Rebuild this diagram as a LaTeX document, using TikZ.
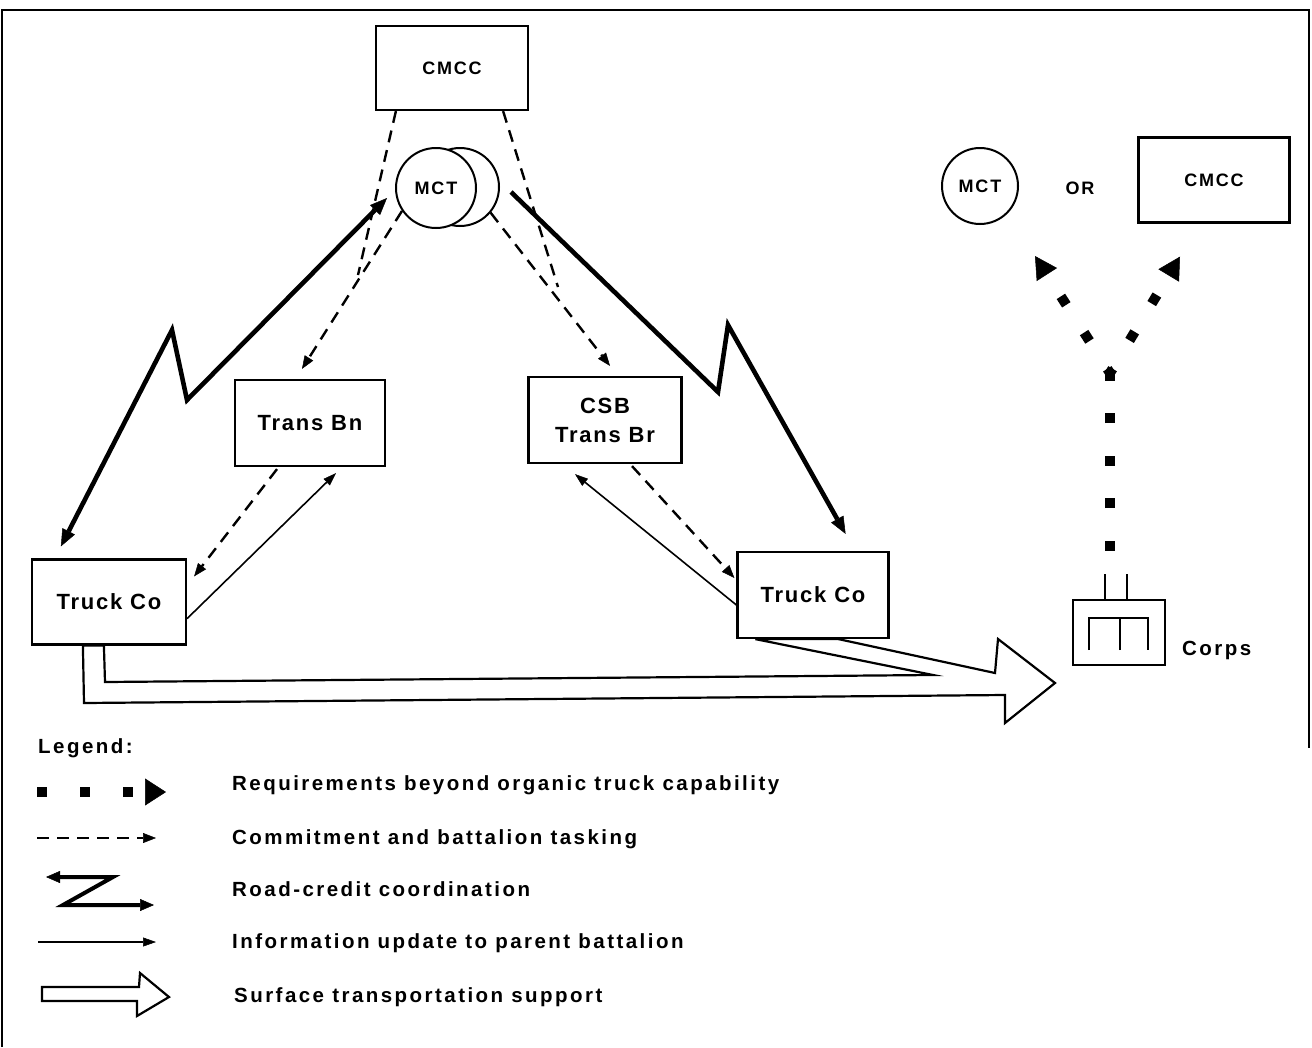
\documentclass[tikz,border=0pt]{standalone}
\usepackage{fontspec}
\setmainfont{Liberation Sans}
\newfontfamily\labfont{Liberation Sans Bold}[LetterSpace=12]
\newfontfamily\unitfont{Liberation Sans Bold}[LetterSpace=8]
\newfontfamily\tagfamily{Liberation Sans Bold}[LetterSpace=10]
\usetikzlibrary{arrows.meta,calc}
\newcommand\boxfont{\unitfont\fontsize{22}{29}\selectfont}
\newcommand\tagfont{\tagfamily\fontsize{18}{21}\selectfont}
\newcommand\legfont{\labfont\fontsize{20.5}{24}\selectfont}
\tikzset{
  roadtip/.tip={Triangle[length=17pt,width=14pt,line width=0.5pt]},
  smallroadtip/.tip={Triangle[length=14pt,width=12pt,line width=0.5pt]}
}
\begin{document}
\begin{tikzpicture}[x=1pt,y=-1pt,
  box/.style={draw, line width=2.2pt, inner sep=0pt, align=center, font=\boxfont},
  ring/.style={draw, circle, line width=2pt, inner sep=0pt, font=\tagfont},
  task/.style={line width=2.4pt, dash pattern=on 12pt off 8pt,
    -{Triangle[length=13pt,width=10pt,line width=0.5pt]}},
  road/.style={line width=4.6pt, line join=miter, miter limit=20},
  info/.style={line width=1.6pt, -{Triangle[length=13pt,width=9pt,line width=0.5pt]}},
  req/.style={line width=10pt, -{Triangle[length=22pt,width=24pt,line width=0.5pt]}},
  hollow/.style={draw, line width=2.2pt, line join=miter},
  legtext/.style={anchor=base west, font=\legfont, inner sep=0pt}
]
\useasboundingbox (0,0) rectangle (1312,1047);

% outer frame
\draw[line width=2.6pt] (2,1047) -- (2,10) -- (1309,10) -- (1309,748);

% organisations
\node[box, minimum width=152pt, minimum height=84pt, font=\tagfont] (cmcc) at (452,68) {CMCC};
\node[ring, minimum size=78pt] (mctb) at (460,187) {};
\node[ring, minimum size=80pt, fill=white] (mct) at (436,188) {MCT};
\node[box, minimum width=150pt, minimum height=86pt] (transbn) at (310,423) {Trans Bn};
\node[box, minimum width=153pt, minimum height=86pt] (csb) at (605,420) {CSB\\Trans Br};
\node[box, minimum width=154pt, minimum height=85pt] (truckL) at (109,602) {Truck Co};
\node[box, minimum width=151pt, minimum height=86pt] (truckR) at (813,595) {Truck Co};

% alternative receivers and corps
\node[ring, minimum size=76pt] (mct2) at (980,186) {MCT};
\node[font=\tagfont] (or) at (1080,188) {OR};
\node[box, minimum width=151pt, minimum height=85pt, font=\tagfont] (cmcc2) at (1214,180) {CMCC};
\node[draw, line width=2pt, minimum width=92pt, minimum height=65pt, inner sep=0pt] (corps) at (1119,632) {};
\node[font=\legfont, anchor=base west, inner sep=0pt] (corpslbl) at (1182,655) {Corps};
\draw[line width=2pt] ($(corps.north)+(-14,0)$) -- +(0,-25);
\draw[line width=2pt] ($(corps.north)+(8,0)$) -- +(0,-25);
\draw[line width=2pt] ($(corps.center)+(-30,18)$) -- ++(0,-32) -- ++(59,0) -- ++(0,32);
\draw[line width=2pt] ($(corps.center)+(1,18)$) -- ++(0,-32);

% commitment and battalion tasking
\coordinate (mergeL) at (358,275);
\coordinate (mergeR) at (558,287);
\draw[line width=2.4pt, dash pattern=on 12pt off 8pt] ($(cmcc.south west)+(21,0)$) -- (mergeL);
\draw[line width=2.4pt, dash pattern=on 12pt off 8pt] ($(cmcc.south east)+(-26,0)$) -- (mergeR);
\draw[task] (mct.214) -- ($(transbn.north)+(-8,-10)$);
\draw[task] (mctb.-40) -- ($(csb.north)+(5,-10)$);
\draw[task] ($(transbn.south)+(-33,2)$) -- ($(truckL.north east)+(7,18)$);
\draw[task] ($(csb.south)+(27,2)$) -- ($(truckR.west)+(-2,-17)$);

% road-credit coordination
\draw[road, {roadtip}-{roadtip}] ($(truckL.north west)+(30,-12)$) -- (172,330) -- (187,400) -- ($(mct.west)+(-8,10)$);
\draw[road, -{roadtip}] ($(mctb.east)+(11,5)$) -- (718,392) -- (728,325) -- ($(truckR.north east)+(-44,-17)$);

% information update to parent battalion
\draw[info] ($(truckL.south east)+(0,-27)$) -- ($(transbn.south)+(26,6)$);
\draw[info] ($(truckR.west)+(0,10)$) -- ($(csb.south)+(-30,10)$);

% surface transportation support
\draw[hollow] ($(truckL.south west)+(52,0)$) -- (84,703) -- (1005,695) -- (1005,723)
  -- (1055,683) -- (998,639) -- (995,673) -- ($(truckR.south west)+(102,0)$)
  -- ($(truckR.south west)+(19,0)$) -- (933,675) -- (105,682)
  -- ($(truckL.south west)+(73,0)$) -- cycle;

% requirements beyond organic truck capability
\coordinate (fork) at (1110,373);
\coordinate (tipL) at ($(mct2.south)+(55,31)$);
\coordinate (tipR) at ($(cmcc2.south)+(-34,33)$);
\draw[line width=10pt, dash pattern=on 10pt off 32.5pt, dash phase=19.5pt] ($(corps.north)+(-9,-25)$) -- (fork);
\draw[req, dash pattern=on 10pt off 33pt, dash phase=5pt] (fork) -- (tipL);
\draw[req, dash pattern=on 10pt off 33pt, dash phase=5pt] (fork) -- (tipR);

% legend
\node[legtext] (leg) at (38,753) {Legend:};
\coordinate (l1a) at (37,792); \coordinate (l1b) at (166,792);
\draw[line width=10pt, dash pattern=on 10pt off 33pt, -{Triangle[length=21pt,width=27pt,line width=0.5pt]}] (l1a) -- (l1b);
\node[legtext] (t1) at (232,790) {Requirements beyond organic truck capability};
\coordinate (l2a) at (37,838); \coordinate (l2b) at (156,838);
\draw[task] (l2a) -- (l2b);
\node[legtext] (t2) at (232,844) {Commitment and battalion tasking};
\coordinate (l3a) at (46,877); \coordinate (l3b) at (154,905);
\draw[line width=4pt, line join=miter, {smallroadtip}-{smallroadtip}] (l3a) -- (113,877) -- (63,905) -- (l3b);
\node[legtext] (t3) at (232,896) {Road-credit coordination};
\coordinate (l4a) at (38,942); \coordinate (l4b) at (156,942);
\draw[info] (l4a) -- (l4b);
\node[legtext] (t4) at (232,948) {Information update to parent battalion};
\draw[hollow] (42,987) -- (139,987) -- (140,973) -- (169,997) -- (137,1016) -- (137,1001) -- (42,1001) -- cycle;
\node[legtext] (t5) at (234,1002) {Surface transportation support};
\end{tikzpicture}
\end{document}
